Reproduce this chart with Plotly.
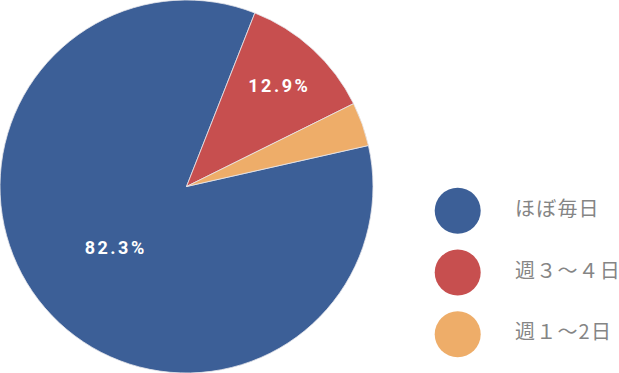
import plotly.graph_objects as go

categories = ["ほぼ毎日", "週３～４日", "週１～2日"]
# slice sizes as drawn in the picture (degrees of arc converted to shares)
shares = [84.5, 11.7, 3.8]
# percentage labels as printed on the picture
label_text = ["82.3%", "12.9%", ""]
colors = ["#3C5F97", "#C74F4F", "#EEAD69"]

fig = go.Figure()

fig.add_trace(go.Pie(
    values=shares,
    labels=categories,
    text=label_text,
    textinfo="text",
    textposition="inside",
    insidetextorientation="horizontal",
    textfont=dict(family="Roboto, Arial, sans-serif", size=18, color="white", weight="bold"),
    marker=dict(colors=colors, line=dict(color="rgba(230,230,235,0.8)", width=1)),
    sort=False,
    direction="clockwise",
    rotation=77.3,
    domain=dict(x=[0, 373 / 619], y=[0, 1]),
    showlegend=False,
    hoverinfo="label",
))

idx = list(range(len(categories)))
fig.add_trace(go.Scatter(
    x=[0] * len(categories), y=idx,
    mode="markers",
    marker=dict(size=46, color=colors, line=dict(width=0)),
    showlegend=False, hoverinfo="skip",
))
fig.add_trace(go.Scatter(
    x=[1] * len(categories), y=idx,
    mode="text",
    text=categories,
    textposition="middle right",
    textfont=dict(family="Noto Sans CJK JP", size=20, color="#858585"),
    showlegend=False, hoverinfo="skip",
))

fig.update_xaxes(range=[-7.988, 2.815], visible=False, fixedrange=True)
fig.update_yaxes(range=[2.626, -3.41], visible=False, fixedrange=True)

fig.update_layout(
    width=619, height=373,
    margin=dict(l=0, r=0, t=0, b=0),
    paper_bgcolor="white", plot_bgcolor="rgba(0,0,0,0)",
    uniformtext=dict(minsize=18, mode="show"),
)

post = (
    "document.body.style.margin='0';document.body.style.padding='0';"
    "document.querySelectorAll('.slicetext text, text.slicetext').forEach(function(t){t.style.letterSpacing='2.5px';});"
    "document.querySelectorAll('.textpoint text').forEach(function(t){t.style.letterSpacing='1.2px';});"
)
fig.write_html("out.html", config={"displayModeBar": False}, post_script=post)
